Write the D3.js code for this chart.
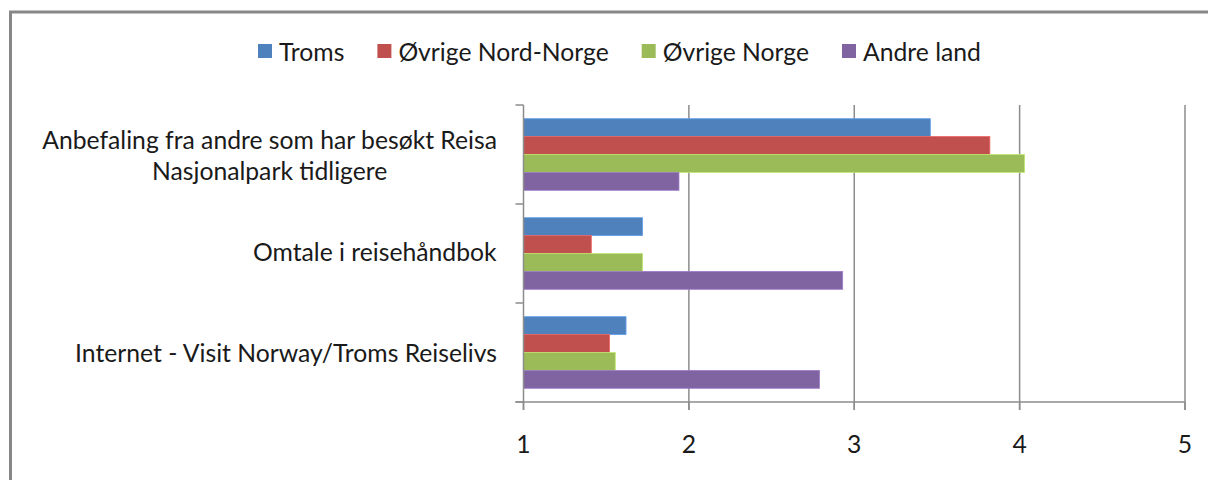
<!DOCTYPE html>
<html>
<head>
<meta charset="utf-8">
<script src="https://cdn.jsdelivr.net/npm/d3@7"></script>
<style>
  html, body { margin: 0; padding: 0; background: #fff; }
  svg { display: block; font-family: Lato, "Open Sans", sans-serif; }
</style>
</head>
<body>
<div id="chart"></div>
<script>
// --- data ---
var categories = [
  ["Anbefaling fra andre som har besøkt Reisa", "Nasjonalpark tidligere"],
  ["Omtale i reisehåndbok"],
  ["Internet - Visit Norway/Troms Reiselivs"]
];
var seriesNames = ["Troms", "Øvrige Nord-Norge", "Øvrige Norge", "Andre land"];
var seriesColors = ["#4f81bd", "#c0504d", "#9bbb59", "#8064a2"];
var troms       = [3.46, 1.72, 1.62];
var nordNorge   = [3.82, 1.41, 1.52];
var ovrigNorge  = [4.03, 1.72, 1.555];
var andreLand   = [1.94, 2.93, 2.79];
var xTicks = [1, 2, 3, 4, 5];

var seriesValues = [troms, nordNorge, ovrigNorge, andreLand];

var W = 1208, H = 480;
var svg = d3.select("#chart").append("svg")
    .attr("width", W).attr("height", H);

// frame (only left and top edges visible)
svg.append("path")
    .attr("d", "M10.5,480 V12 H1208")
    .attr("fill", "none")
    .attr("stroke", "#878787")
    .attr("stroke-width", 3);

// font size fitted so the longest label matches the original width
var probe = svg.append("text").attr("font-size", 24).text(categories[0][0]);
var fs = 24 * 455 / probe.node().getComputedTextLength();
probe.remove();

var x = d3.scaleLinear().domain([1, 5]).range([523.5, 1185]);
var y = d3.scaleBand().domain(d3.range(categories.length)).range([105, 402]);
var ys = d3.scaleBand().domain(d3.range(seriesNames.length))
    .range([0, y.bandwidth()]).paddingInner(0).paddingOuter(0.765);

// gridlines
svg.append("g").selectAll("line").data(xTicks.slice(1)).join("line")
    .attr("x1", d => x(d)).attr("x2", d => x(d))
    .attr("y1", 105).attr("y2", 410)
    .attr("stroke", "#8c8c8c").attr("stroke-width", 1.5);

// bars
var groups = svg.append("g").selectAll("g").data(categories).join("g")
    .attr("transform", (d, i) => "translate(0," + y(i) + ")");

groups.selectAll("rect")
    .data((d, i) => seriesValues.map((s, k) => ({k: k, v: s[i]})))
    .join("rect")
    .attr("x", x(1))
    .attr("y", d => ys(d.k))
    .attr("width", d => x(d.v) - x(1))
    .attr("height", ys.bandwidth())
    .attr("fill", d => seriesColors[d.k])
    .attr("stroke", d => d3.color(seriesColors[d.k]).brighter(0.6))
    .attr("stroke-width", 0.8);

// y axis line and ticks
var yAxis = svg.append("g");
yAxis.append("line")
    .attr("x1", x(1)).attr("x2", x(1)).attr("y1", 105).attr("y2", 410)
    .attr("stroke", "#8c8c8c").attr("stroke-width", 1.5);
yAxis.selectAll("line.tk").data(d3.range(categories.length + 1)).join("line")
    .attr("class", "tk")
    .attr("x1", x(1) - 8).attr("x2", x(1))
    .attr("y1", d => 105 + d * y.step()).attr("y2", d => 105 + d * y.step())
    .attr("stroke", "#8c8c8c").attr("stroke-width", 1.5);

// x axis
svg.append("line")
    .attr("x1", x(1) - 8).attr("x2", x(5)).attr("y1", 402).attr("y2", 402)
    .attr("stroke", "#8c8c8c").attr("stroke-width", 1.5);
svg.append("g").selectAll("line").data(xTicks).join("line")
    .attr("x1", d => x(d)).attr("x2", d => x(d)).attr("y1", 402).attr("y2", 410)
    .attr("stroke", "#8c8c8c").attr("stroke-width", 1.5);
svg.append("g").selectAll("text").data(xTicks).join("text")
    .attr("x", d => x(d)).attr("y", 443)
    .attr("text-anchor", "middle").attr("dominant-baseline", "central")
    .attr("font-size", fs).attr("fill", "#1a1a1a")
    .text(d => d);

// category labels
var labels = svg.append("g").selectAll("text").data(categories).join("text")
    .attr("text-anchor", "middle")
    .attr("font-size", fs).attr("fill", "#1a1a1a")
    .attr("x", 270);
labels.each(function(lines, i) {
  var t = d3.select(this);
  var cy = y(i) + y.bandwidth() / 2;
  var lh = 31;
  lines.forEach(function(line, j) {
    t.append("tspan")
      .attr("x", 270)
      .attr("y", cy + (j - (lines.length - 1) / 2) * lh - (i == 1 ? 2 : 0))
      .attr("dominant-baseline", "central")
      .text(line);
  });
});
// right-align block center: shift so the widest line ends at x=497
labels.each(function() {
  var bb = this.getBBox();
  d3.select(this).selectAll("tspan").attr("x", 270 + (497 - (bb.x + bb.width)));
});

// legend
var legend = svg.append("g");
var lx = 258;
seriesNames.forEach(function(name, k) {
  legend.append("rect")
    .attr("x", lx).attr("y", 44).attr("width", 14).attr("height", 14)
    .attr("fill", seriesColors[k]);
  var t = legend.append("text")
    .attr("x", lx + 21).attr("y", 51)
    .attr("dominant-baseline", "central")
    .attr("font-size", fs).attr("fill", "#1a1a1a")
    .text(name);
  lx += 21 + t.node().getComputedTextLength() + 33;
});
</script>
</body>
</html>
